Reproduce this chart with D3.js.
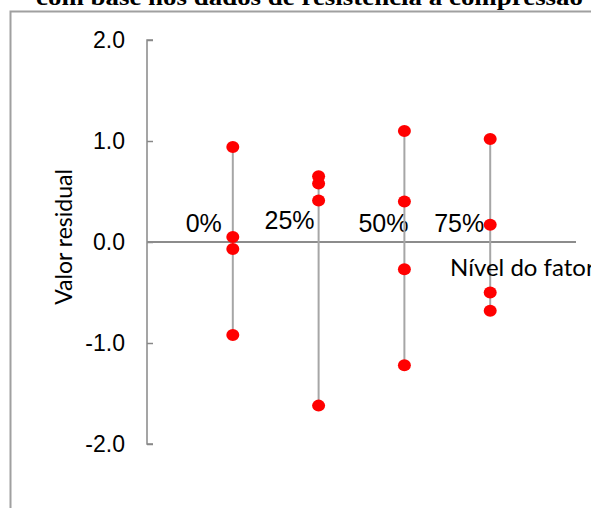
<!DOCTYPE html>
<html>
<head>
<meta charset="utf-8">
<script src="https://cdn.jsdelivr.net/npm/d3@7"></script>
<style>
  html, body { margin: 0; padding: 0; background: #fff; }
  svg { display: block; }
</style>
</head>
<body>
<svg id="chart" width="591" height="508"></svg>
<script>
// Factor levels (categories) and the residuals observed at each level
const levels = ["0%", "25%", "50%", "75%"];
const residuals0 = [0.94, 0.05, -0.07, -0.92];
const residuals25 = [0.65, 0.58, 0.41, -1.62];
const residuals50 = [1.10, 0.40, -0.27, -1.22];
const residuals75 = [1.02, 0.17, -0.50, -0.68];
const yTicks = [-2, -1, 0, 1, 2];
const titleText = "com base nos dados de resistência à compressão";
const yTitle = "Valor residual";
const xTitle = "Nível do fator";

const groups = [residuals0, residuals25, residuals50, residuals75];

// Small horizontal nudges for the level labels (layout only)
const labelNudge = [-29, -29, -21, -31];
const labelLift = [0, 3, 0, 0];

const svg = d3.select("#chart");

const x = d3.scaleLinear().domain([0, 5]).range([147, 576]);
const y = d3.scaleLinear().domain([-2, 2]).range([444, 40]);

// Tick labels use a plain hyphen for negatives
const fmt = d => d3.format(".1f")(d).replace("\u2212", "-");

// Outer frame (partly outside the view)
svg.append("rect")
  .attr("x", 10.5).attr("y", 11.5)
  .attr("width", 700).attr("height", 700)
  .attr("fill", "none").attr("stroke", "#a0a0a0").attr("stroke-width", 2);

// Title, partly clipped at the top
svg.append("text")
  .attr("x", 36).attr("y", 5)
  .attr("font-family", "Liberation Serif, Times New Roman, serif")
  .attr("font-weight", "bold")
  .attr("font-size", 23)
  .attr("textLength", 547)
  .attr("lengthAdjust", "spacingAndGlyphs")
  .attr("fill", "#000")
  .text(titleText);

// Y axis with inward ticks
const yAxis = d3.axisRight(y).tickValues(yTicks).tickSize(6).tickFormat(() => "");
const gy = svg.append("g").attr("transform", "translate(147,0)").call(yAxis);
gy.select(".domain").attr("stroke", "#888").attr("stroke-width", 1.5)
  .attr("d", `M6,${y(2)}H0V${y(-2)}H6`);
gy.selectAll(".tick line").attr("stroke", "#888").attr("stroke-width", 1.5);

svg.append("g").selectAll("text")
  .data(yTicks)
  .join("text")
  .attr("x", 125)
  .attr("y", d => y(d))
  .attr("dy", "0.36em")
  .attr("text-anchor", "end")
  .attr("font-family", "Liberation Sans, Arial, sans-serif")
  .attr("font-size", 23)
  .attr("fill", "#000")
  .text(fmt);

// Zero line (category axis)
svg.append("line")
  .attr("x1", x(0)).attr("x2", x(5))
  .attr("y1", y(0)).attr("y2", y(0))
  .attr("stroke", "#8c8c8c").attr("stroke-width", 2);

// Level labels
svg.append("g").selectAll("text")
  .data(levels)
  .join("text")
  .attr("x", (d, i) => x(i + 1) + labelNudge[i])
  .attr("y", (d, i) => y(0) - 10 - labelLift[i])
  .attr("text-anchor", "middle")
  .attr("font-family", "Liberation Sans, Arial, sans-serif")
  .attr("font-size", 25)
  .attr("fill", "#000")
  .text(d => d);

// Stems spanning each level's residuals
svg.append("g").selectAll("line")
  .data(groups)
  .join("line")
  .attr("x1", (d, i) => x(i + 1)).attr("x2", (d, i) => x(i + 1))
  .attr("y1", d => y(d3.max(d))).attr("y2", d => y(d3.min(d)))
  .attr("stroke", "#a6a6a6").attr("stroke-width", 2);

// Residual points
const pts = groups.flatMap((g, i) => g.map(v => ({ i, v })));
svg.append("g").selectAll("ellipse")
  .data(pts)
  .join("ellipse")
  .attr("cx", d => x(d.i + 1))
  .attr("cy", d => y(d.v))
  .attr("rx", 6.5).attr("ry", 6)
  .attr("fill", "#ff0000");

// Axis titles
svg.append("text")
  .attr("transform", "translate(72,237) rotate(-90)")
  .attr("text-anchor", "middle")
  .attr("font-family", "Lato, Carlito, Calibri, sans-serif")
  .attr("font-size", 23)
  .attr("fill", "#000")
  .text(yTitle);

svg.append("text")
  .attr("x", 450).attr("y", 276)
  .attr("font-family", "Lato, Carlito, Calibri, sans-serif")
  .attr("font-size", 24)
  .attr("fill", "#000")
  .text(xTitle);
</script>
</body>
</html>
